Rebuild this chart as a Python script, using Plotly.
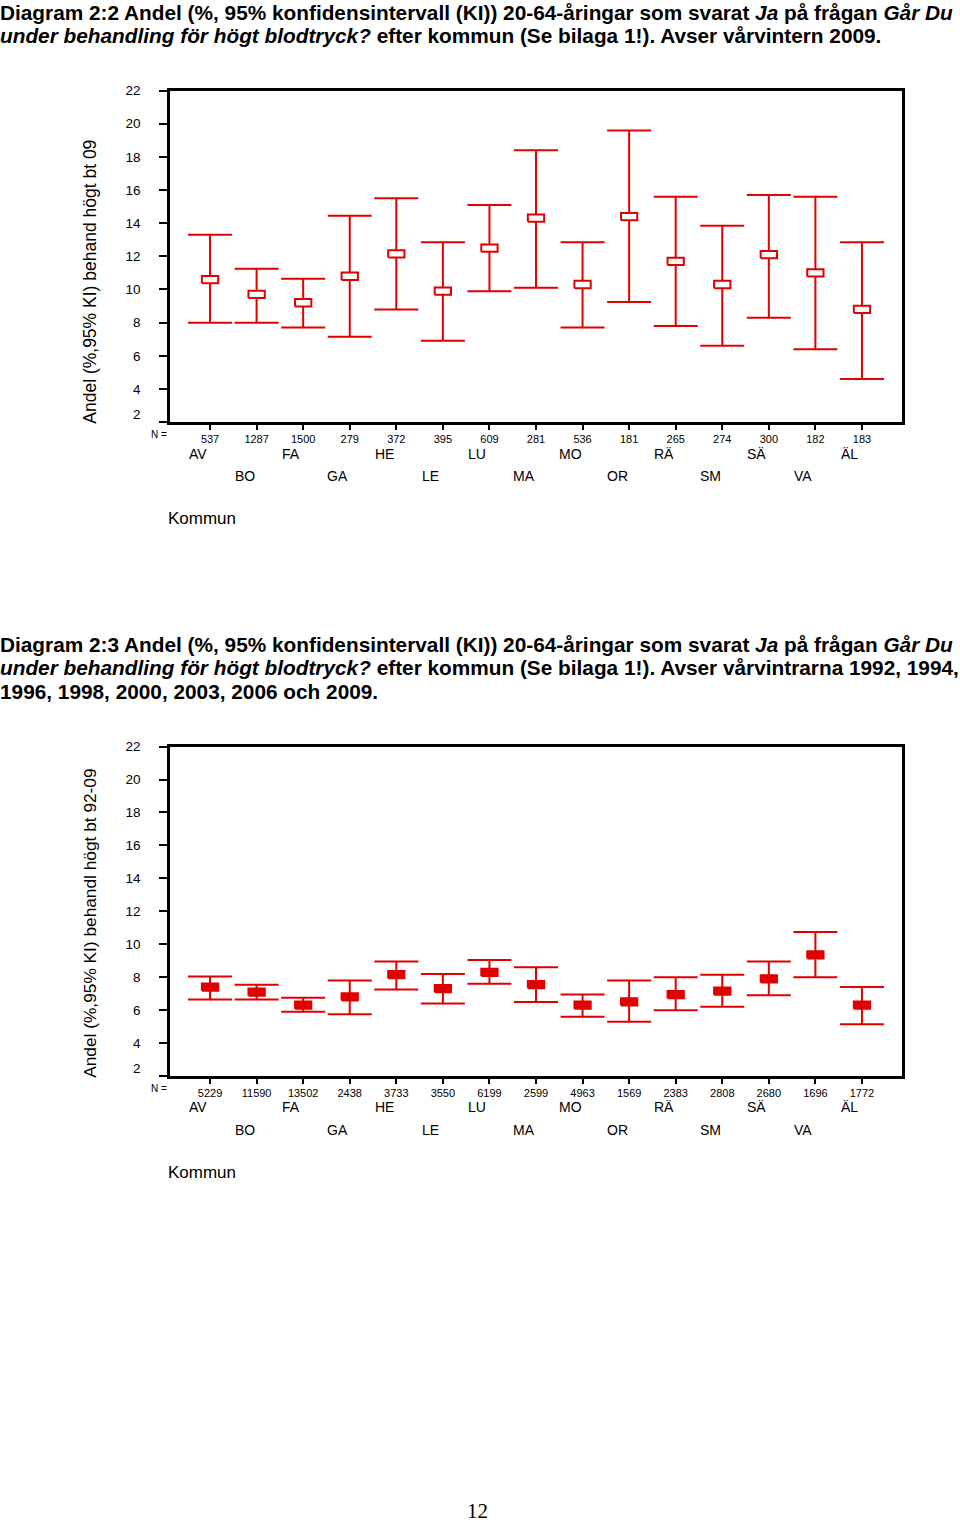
import plotly.graph_objects as go

# ---------------- data ----------------
kommun = ["AV", "BO", "FA", "GA", "HE", "LE", "LU", "MA", "MO", "OR", "RÄ", "SM", "SÄ", "VA", "ÄL"]

n_09 = [537, 1287, 1500, 279, 372, 395, 609, 281, 536, 181, 265, 274, 300, 182, 183]
est_09 = [10.6, 9.7, 9.2, 10.8, 12.15, 9.9, 12.5, 14.3, 10.3, 14.4, 11.7, 10.3, 12.1, 11.0, 8.8]
low_09 = [8.0, 8.0, 7.7, 7.15, 8.8, 6.9, 9.9, 10.1, 7.7, 9.25, 7.8, 6.6, 8.3, 6.4, 4.6]
up_09 = [13.3, 11.25, 10.65, 14.45, 15.5, 12.85, 15.1, 18.4, 12.85, 19.6, 15.6, 13.85, 15.7, 15.6, 12.85]

n_all = [5229, 11590, 13502, 2438, 3733, 3550, 6199, 2599, 4963, 1569, 2383, 2808, 2680, 1696, 1772]
est_all = [7.4, 7.1, 6.3, 6.8, 8.15, 7.3, 8.3, 7.55, 6.3, 6.5, 6.95, 7.15, 7.9, 9.35, 6.3]
low_all = [6.65, 6.65, 5.9, 5.75, 7.25, 6.4, 7.6, 6.5, 5.6, 5.3, 6.0, 6.2, 6.9, 8.0, 5.15]
up_all = [8.05, 7.55, 6.75, 7.8, 8.95, 8.2, 9.05, 8.6, 6.95, 7.8, 8.0, 8.15, 8.95, 10.75, 7.4]

y_ticks = [2, 4, 6, 8, 10, 12, 14, 16, 18, 20, 22]

title1_lines = [
    "<b>Diagram 2:2 Andel (%, 95% konfidensintervall (KI)) 20-64-åringar som svarat <i>Ja</i> på frågan <i>Går Du</i></b>",
    "<b><i>under behandling för högt blodtryck?</i> efter kommun (Se bilaga 1!). Avser vårvintern 2009.</b>",
]
title2_lines = [
    "<b>Diagram 2:3 Andel (%, 95% konfidensintervall (KI)) 20-64-åringar som svarat <i>Ja</i> på frågan <i>Går Du</i></b>",
    "<b><i>under behandling för högt blodtryck?</i> efter kommun (Se bilaga 1!). Avser vårvintrarna 1992, 1994,</b>",
    "<b>1996, 1998, 2000, 2003, 2006 och 2009.</b>",
]
ylab1 = "Andel (%,95% KI) behand högt bt 09"
ylab2 = "Andel (%,95% KI) behandl högt bt 92-09"

RED = "#e00000"
W, H = 960, 1522
pos = list(range(1, len(kommun) + 1))


def py(v):
    return 1 - v / H


def rects(xs, ys, hw, hh):
    rx, ry = [], []
    for x, y in zip(xs, ys):
        rx += [x - hw, x + hw, x + hw, x - hw, x - hw, None]
        ry += [y - hh, y - hh, y + hh, y + hh, y - hh, None]
    return rx, ry


fig = go.Figure()

panels = [
    dict(est=est_09, low=low_09, up=up_09, n=n_09, xa="x", ya="y", fill="white",
         top=84, bottom=417, ylab=ylab1, ylab_size=17.5, titles=title1_lines, title_ys=[6, 29],
         ylab_y=276, row1=449, row2=471, kom=514),
    dict(est=est_all, low=low_all, up=up_all, n=n_all, xa="x2", ya="y2", fill=RED,
         top=743, bottom=1074, ylab=ylab2, ylab_size=17.3, titles=title2_lines, title_ys=[640, 664, 688],
         ylab_y=921, row1=1105, row2=1128, kom=1171),
]

annotations = []
for i, p in enumerate(panels):
    plus = [u - e for u, e in zip(p["up"], p["est"])]
    minus = [e - l for e, l in zip(p["est"], p["low"])]
    fig.add_trace(go.Scatter(
        x=pos, y=p["est"], mode="markers", xaxis=p["xa"], yaxis=p["ya"],
        marker=dict(size=1, color="rgba(0,0,0,0)"),
        error_y=dict(type="data", array=plus, arrayminus=minus, symmetric=False,
                     color=RED, thickness=2, width=22),
        showlegend=False, hoverinfo="skip"))
    rx, ry = rects(pos, p["est"], 0.175, 0.22)
    fig.add_trace(go.Scatter(
        x=rx, y=ry, mode="lines", fill="toself", fillcolor=p["fill"],
        line=dict(color=RED, width=2), xaxis=p["xa"], yaxis=p["ya"],
        showlegend=False, hoverinfo="skip"))

    sfx = "" if i == 0 else "2"
    dom_y = [py(p["bottom"]), py(p["top"])]
    fig.update_layout(**{
        "xaxis" + sfx: dict(domain=[170 / W, 902 / W], range=[0.14, 15.86], anchor="y" + sfx,
                            tickmode="array", tickvals=pos, ticktext=[str(v) for v in p["n"]],
                            tickfont=dict(size=11, color="black", family="Liberation Sans"),
                            ticks="outside", ticklen=5, tickwidth=2, tickcolor="black",
                            showline=True, linewidth=2.5, linecolor="black", mirror=True,
                            showgrid=False, zeroline=False, fixedrange=True),
        "yaxis" + sfx: dict(domain=dom_y, range=[2, 22], anchor="x" + sfx,
                            tickmode="array", tickvals=y_ticks,
                            ticktext=["" if v == 2 else str(v) for v in y_ticks],
                            tickfont=dict(size=13.5, color="black", family="Liberation Sans"),
                            ticks="outside", ticklen=8, tickwidth=1.5, tickcolor="black",
                            ticklabelstandoff=16,
                            showline=True, linewidth=2.5, linecolor="black", mirror=True,
                            showgrid=False, zeroline=False, fixedrange=True),
    })

    annotations.append(dict(x=143 / W, xref="paper", y=2, yref="y" + sfx, text="2",
                            showarrow=False, xanchor="right", yanchor="middle", yshift=8,
                            font=dict(size=13.5, color="black", family="Liberation Sans")))
    annotations.append(dict(x=169 / W, xref="paper", y=py(p["bottom"] + 12), yref="paper",
                            text="N =", showarrow=False, xanchor="right", yanchor="middle",
                            font=dict(size=10, color="black", family="Liberation Sans")))
    for j, k in enumerate(kommun):
        ry_px = p["row1"] if j % 2 == 0 else p["row2"]
        annotations.append(dict(x=pos[j], xref="x" + sfx, y=py(ry_px), yref="paper",
                                text=k, showarrow=False, xanchor="center", yanchor="middle",
                                xshift=-12,
                                font=dict(size=14, color="black", family="Liberation Sans")))
    annotations.append(dict(x=168 / W, xref="paper", y=py(p["kom"]), yref="paper",
                            text="Kommun", showarrow=False, xanchor="left", yanchor="middle",
                            xshift=-2,
                            font=dict(size=17, color="black", family="Liberation Sans")))
    annotations.append(dict(x=90 / W, xref="paper", y=py(p["ylab_y"]), yref="paper",
                            text=p["ylab"], textangle=-90, showarrow=False,
                            xanchor="center", yanchor="middle",
                            font=dict(size=p["ylab_size"], color="black", family="Liberation Sans")))
    for line, ty in zip(p["titles"], p["title_ys"]):
        annotations.append(dict(x=0, xref="paper", y=py(ty), yref="paper",
                                text=line, showarrow=False, xanchor="left", yanchor="middle",
                                xshift=-2, align="left",
                                font=dict(size=20.8, color="black", family="Liberation Sans")))

annotations.append(dict(x=477 / W, xref="paper", y=py(1511), yref="paper",
                        text="12", showarrow=False, xanchor="center", yanchor="middle",
                        font=dict(size=21, color="black", family="Liberation Serif")))

fig.update_layout(width=W, height=H, margin=dict(l=0, r=0, t=0, b=0),
                  paper_bgcolor="white", plot_bgcolor="white",
                  annotations=annotations, showlegend=False)

fig.write_html("out.html", config={"displayModeBar": False},
               post_script="document.body.style.margin='0';document.body.style.overflow='hidden';")
